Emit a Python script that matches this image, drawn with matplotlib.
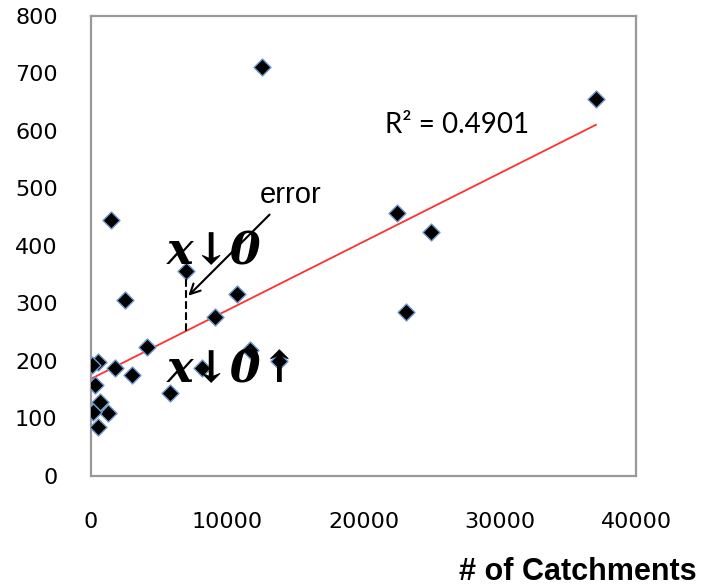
import numpy as np
import matplotlib.pyplot as plt

plt.rcParams['font.family'] = ['DejaVu Sans']
plt.rcParams['font.sans-serif'] = ['DejaVu Sans']

# data
catchments = [12570, 37060, 22430, 24930, 23090, 1470, 6990, 2500, 10740, 9120,
              4120, 11690, 13820, 8160, 515, 1760, 3010, 290, 5810, 660,
              1250, 150, 515, 70]
values = [711, 656, 457, 424, 285, 445, 357, 306, 317, 277,
          224, 219, 200, 188, 198, 188, 176, 158, 144, 129,
          110, 111, 85, 193]

trend_intercept = 169
trend_slope = 0.01192
r2_text = "R² = 0.4901"

x_ticks = [0, 10000, 20000, 30000, 40000]
y_ticks = [0, 100, 200, 300, 400, 500, 600, 700, 800]

fig = plt.figure(figsize=(7.03, 5.87), dpi=100)
ax = fig.add_axes([91/703, 1 - 476/587, (636-91)/703, (476-16)/587])

ax.scatter(catchments, values, marker='D', s=75, color='black',
           edgecolors='#6f9ad0', linewidths=1.0, zorder=3)

tx = np.array([min(catchments), max(catchments)])
ax.plot(tx, trend_intercept + trend_slope*tx, color='#ff3030', linewidth=1.3, zorder=2)

ax.set_xlim(0, 40000)
ax.set_ylim(0, 800)
ax.set_xticks(x_ticks)
ax.set_xticklabels([str(v) for v in x_ticks], fontfamily='DejaVu Sans', fontsize=16)
ax.set_yticks(y_ticks)
ax.set_yticklabels([str(v) for v in y_ticks], fontfamily='DejaVu Sans', fontsize=16)
ax.tick_params(length=0)
ax.tick_params(axis='y', pad=24)
ax.tick_params(axis='x', pad=26)
for s in ax.spines.values():
    s.set_color('#999999')
    s.set_linewidth(1.6)

ax.text(21580, 610, r2_text, fontsize=20, family='Lato', va='center')

# error annotation
ex = 6990
ax.plot([ex, ex], [trend_intercept + trend_slope*ex, 342], 'k--', linewidth=1.5, zorder=4)
ax.annotate("", xy=(7000, 310), xytext=(13250, 458),
            arrowprops=dict(arrowstyle='->', color='black', lw=1.5, mutation_scale=18))
ax.text(12400, 489, "error", fontsize=21, family='Liberation Sans', va='center')

ax.text(5550, 390, "x↓0", fontsize=32, family='DejaVu Serif', fontweight='bold',
        style='italic', va='center', zorder=5)
ax.text(5550, 185, "x↓0↑", fontsize=32, family='DejaVu Serif', fontweight='bold',
        style='italic', va='center', zorder=5)

fig.text(697/703, 1 - 572/587, "# of Catchments", fontsize=22, fontweight='bold',
         family='Liberation Sans', ha='right', va='center')

fig.savefig("out.png", dpi=100)
